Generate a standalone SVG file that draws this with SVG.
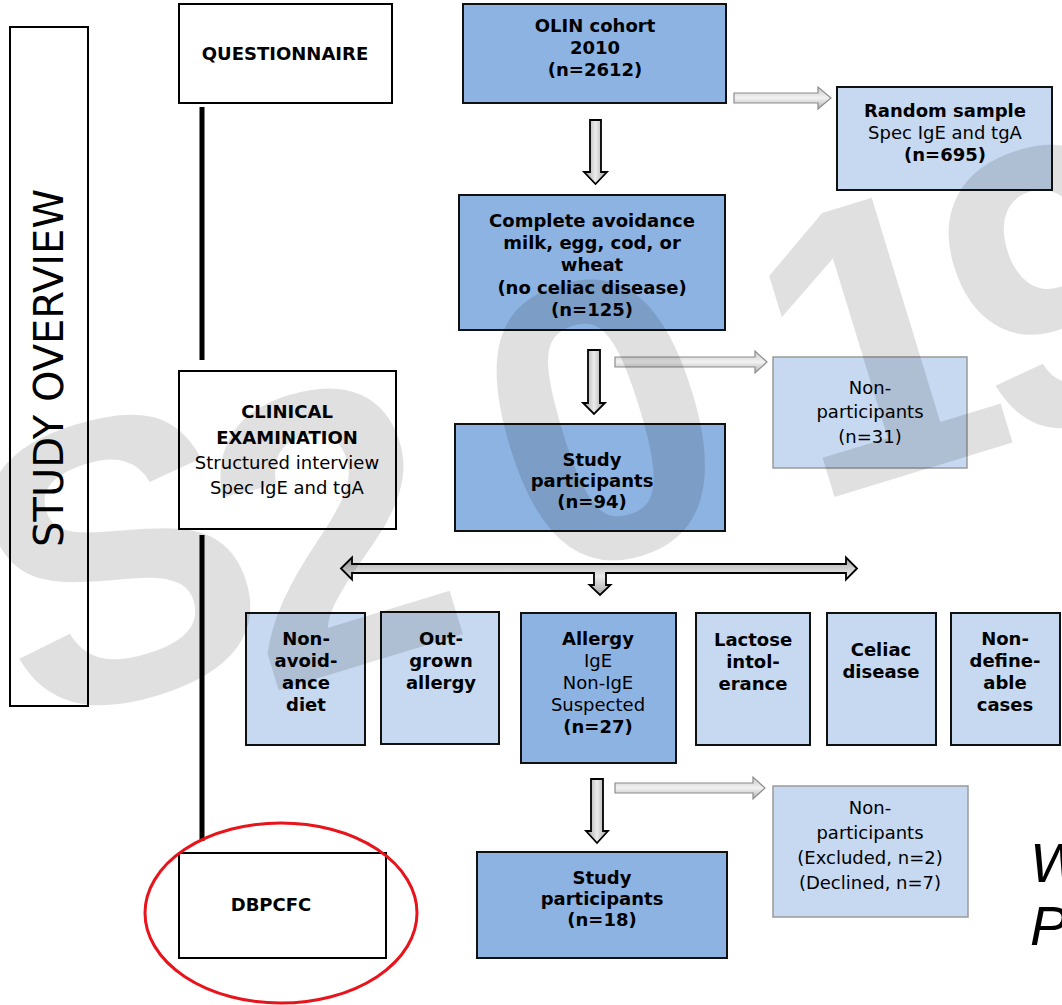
<svg xmlns="http://www.w3.org/2000/svg" width="1062" height="1005" viewBox="0 0 1062 1005">
<defs>
<linearGradient id="gv" x1="0" y1="0" x2="1" y2="0">
<stop offset="0" stop-color="#9a9a9a"/><stop offset="0.5" stop-color="#ececec"/><stop offset="1" stop-color="#9a9a9a"/>
</linearGradient>
<linearGradient id="gh" x1="0" y1="0" x2="0" y2="1">
<stop offset="0" stop-color="#c8c8c8"/><stop offset="0.5" stop-color="#f2f2f2"/><stop offset="1" stop-color="#b0b0b0"/>
</linearGradient>
<linearGradient id="gd" x1="0" y1="0" x2="0" y2="1">
<stop offset="0" stop-color="#a8a8a8"/><stop offset="0.5" stop-color="#ececec"/><stop offset="1" stop-color="#a8a8a8"/>
</linearGradient>
</defs>
<style>
text{font-family:"DejaVu Sans","Verdana",sans-serif;font-size:18px;fill:#000;text-anchor:middle}
.b{font-weight:bold}
.wbox{fill:#fff;stroke:#000;stroke-width:2}
.mid{fill:#8db3e2;stroke:#111;stroke-width:2}
.lt{fill:#c6d9f1;stroke:#111;stroke-width:2}
.ltg{fill:#c6d9f1;stroke:#9a9a9a;stroke-width:1.5}
.ad{fill:url(#gv);stroke:#000;stroke-width:1.8}
.ag{fill:url(#gh);stroke:#8c8c8c;stroke-width:1.2}
.ab{fill:url(#gd);stroke:#000;stroke-width:1.8}
.wm{font-family:"Liberation Sans",Arial,sans-serif;font-weight:bold;font-size:400px;text-anchor:middle;fill:#000;fill-opacity:0.12}
.side{font-family:"Liberation Sans",Arial,sans-serif;font-style:italic;font-size:56px;text-anchor:start}
</style>
<rect width="1062" height="1005" fill="#fff"/>

<g id="study-overview">
<rect x="10" y="27" width="78" height="679" class="wbox"/>
<text transform="translate(63,368) rotate(-90)" style="font-size:40px">STUDY OVERVIEW</text>
</g>

<g id="timeline">
<line x1="202" y1="107" x2="202" y2="360" stroke="#000" stroke-width="5"/>
<line x1="202" y1="535" x2="202" y2="841" stroke="#000" stroke-width="5"/>
</g>

<g id="questionnaire">
<rect x="179" y="4" width="213" height="99" class="wbox"/>
<text x="285" y="60" class="b">QUESTIONNAIRE</text>
</g>

<g id="clinical">
<rect x="179" y="371" width="217" height="158" class="wbox"/>
<text x="287" y="418" class="b">CLINICAL</text>
<text x="287" y="444" class="b">EXAMINATION</text>
<text x="287" y="469">Structured interview</text>
<text x="287" y="494">Spec IgE and tgA</text>
</g>

<g id="dbpcfc">
<rect x="179" y="853" width="207" height="105" class="wbox"/>
<text x="271" y="911" class="b">DBPCFC</text>
<ellipse cx="281" cy="913" rx="136" ry="90" fill="none" stroke="#e8141c" stroke-width="3"/>
</g>

<g id="olin">
<rect x="463" y="4" width="263" height="99" class="mid"/>
<text x="595" y="32" class="b">OLIN cohort</text>
<text x="595" y="54" class="b">2010</text>
<text x="595" y="76" class="b">(n=2612)</text>
</g>

<g id="random">
<rect x="837" y="87" width="215" height="103" class="lt"/>
<text x="945" y="117" class="b">Random sample</text>
<text x="945" y="139">Spec IgE and tgA</text>
<text x="945" y="161" class="b">(n=695)</text>
</g>

<g id="avoidance">
<rect x="459" y="195" width="266" height="135" class="mid"/>
<text x="592" y="227" class="b">Complete avoidance</text>
<text x="592" y="249" class="b">milk, egg, cod, or</text>
<text x="592" y="271" class="b">wheat</text>
<text x="592" y="294" class="b">(no celiac disease)</text>
<text x="592" y="316" class="b">(n=125)</text>
</g>

<g id="nonpart1">
<rect x="773" y="357" width="194" height="111" class="ltg"/>
<text x="870" y="394">Non-</text>
<text x="870" y="418">participants</text>
<text x="870" y="443">(n=31)</text>
</g>

<g id="study94">
<rect x="455" y="424" width="270" height="107" class="mid"/>
<text x="592" y="466" class="b">Study</text>
<text x="592" y="487" class="b">participants</text>
<text x="592" y="508" class="b">(n=94)</text>
</g>

<g id="cat-nonavoid">
<rect x="246" y="613" width="119" height="132" class="lt"/>
<text x="306" y="645" class="b">Non-</text>
<text x="306" y="667" class="b">avoid-</text>
<text x="306" y="689" class="b">ance</text>
<text x="306" y="711" class="b">diet</text>
</g>
<g id="cat-outgrown">
<rect x="381" y="612" width="118" height="132" class="lt"/>
<text x="441" y="645" class="b">Out-</text>
<text x="441" y="667" class="b">grown</text>
<text x="441" y="689" class="b">allergy</text>
</g>
<g id="cat-allergy">
<rect x="521" y="613" width="155" height="150" class="mid"/>
<text x="598" y="645" class="b">Allergy</text>
<text x="598" y="667">IgE</text>
<text x="598" y="689">Non-IgE</text>
<text x="598" y="711">Suspected</text>
<text x="598" y="733" class="b">(n=27)</text>
</g>
<g id="cat-lactose">
<rect x="696" y="613" width="114" height="132" class="lt"/>
<text x="753" y="646" class="b">Lactose</text>
<text x="753" y="668" class="b">intol-</text>
<text x="753" y="690" class="b">erance</text>
</g>
<g id="cat-celiac">
<rect x="827" y="613" width="109" height="132" class="lt"/>
<text x="881" y="656" class="b">Celiac</text>
<text x="881" y="678" class="b">disease</text>
</g>
<g id="cat-nondef">
<rect x="951" y="613" width="109" height="132" class="lt"/>
<text x="1005" y="645" class="b">Non-</text>
<text x="1005" y="667" class="b">define-</text>
<text x="1005" y="689" class="b">able</text>
<text x="1005" y="711" class="b">cases</text>
</g>

<g id="nonpart2">
<rect x="773" y="786" width="195" height="131" class="ltg"/>
<text x="870" y="814">Non-</text>
<text x="870" y="839">participants</text>
<text x="870" y="864">(Excluded, n=2)</text>
<text x="870" y="889">(Declined, n=7)</text>
</g>

<g id="study18">
<rect x="477" y="852" width="250" height="106" class="mid"/>
<text x="602" y="884" class="b">Study</text>
<text x="602" y="905" class="b">participants</text>
<text x="602" y="926" class="b">(n=18)</text>
</g>

<g id="connectors">
<path class="ad" d="M590,120 H601 V172 H607 L595.5,184 L584,172 H590 Z"/>
<path class="ad" d="M588,350 H600 V403 H605 L594,414 L583,403 H588 Z"/>
<path class="ad" d="M591,779 H603 V831 H608 L597,843 L586,831 H591 Z"/>
<path class="ag" d="M734,93 H818 V87 L831,98 L818,109 V103 H734 Z"/>
<path class="ag" d="M615,357 H755 V351 L767,362 L755,373 V367 H615 Z"/>
<path class="ag" d="M615,783 H753 V777 L765,788 L753,799 V793 H615 Z"/>
<path class="ab" d="M341,568.5 L352,557.5 V564 H846 V557.5 L857,568.5 L846,579.5 V573 H606 V585 H610.5 L600,595 L589.5,585 H594 V573 H352 V579.5 Z"/>
</g>

<g id="side-text">
<text x="1030" y="882" class="side">W</text>
<text x="1030" y="945" class="side">P</text>
</g>

<g id="watermark">
<text class="wm" transform="translate(115,555) rotate(-17)" y="143">S</text>
<text class="wm" transform="translate(330,525) rotate(-17)" y="143">2</text>
<text class="wm" transform="translate(600,415) rotate(-17)" y="143">0</text>
<text class="wm" transform="translate(875,335) rotate(-17)" y="143">1</text>
<text class="wm" transform="translate(1060,280) rotate(-17)" y="143">9</text>
</g>
</svg>
